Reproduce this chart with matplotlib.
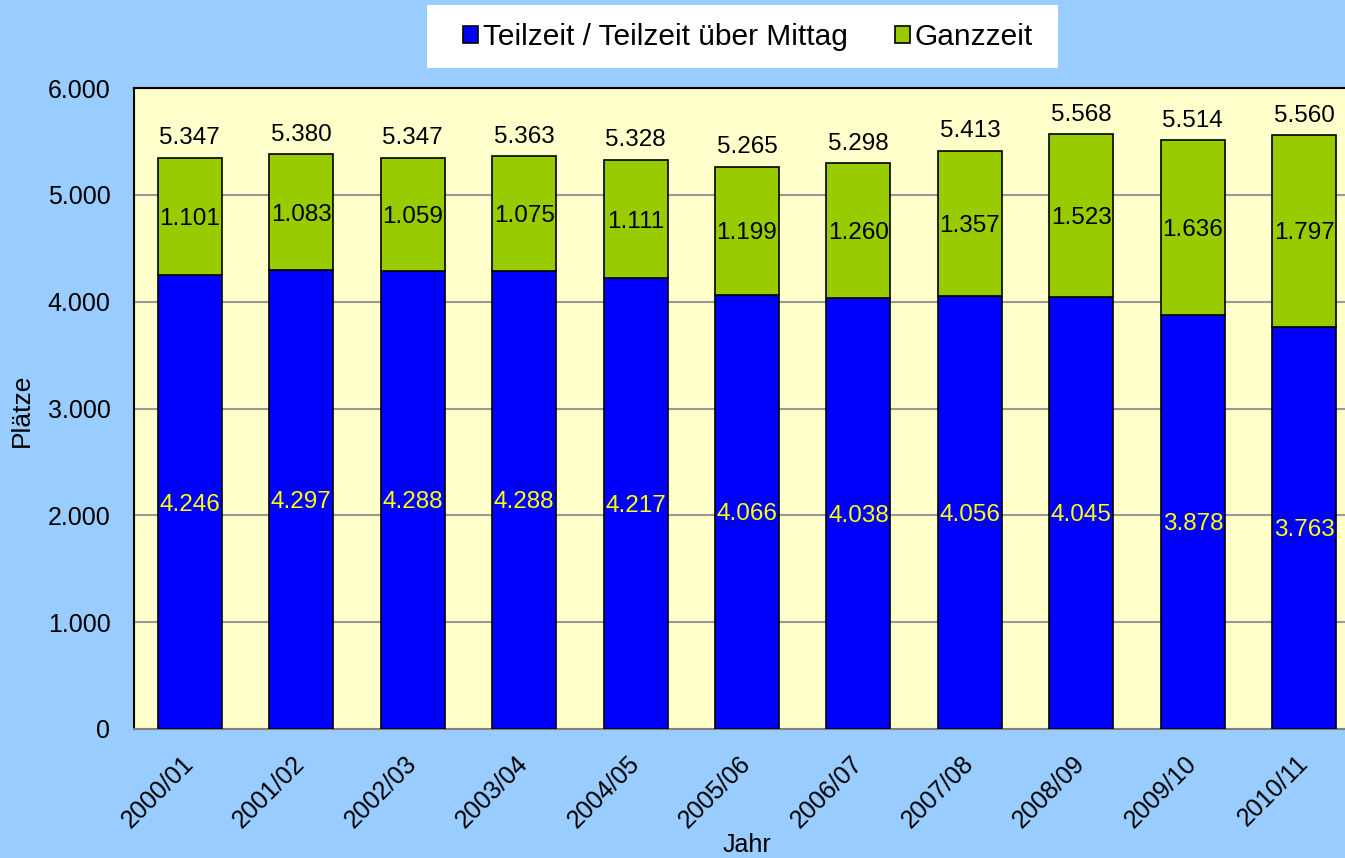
import numpy as np
import matplotlib.pyplot as plt
from matplotlib.patches import Rectangle

plt.rcParams['font.family'] = ['Liberation Sans', 'DejaVu Sans']

jahre = ["2000/01", "2001/02", "2002/03", "2003/04", "2004/05", "2005/06",
         "2006/07", "2007/08", "2008/09", "2009/10", "2010/11"]
teilzeit = [4246, 4297, 4288, 4288, 4217, 4066, 4038, 4056, 4045, 3878, 3763]
ganzzeit = [1101, 1083, 1059, 1075, 1111, 1199, 1260, 1357, 1523, 1636, 1797]


def fmt(v):
    return f"{v:,}".replace(",", ".")


W, H = 1345, 858
fig = plt.figure(figsize=(W / 100, H / 100), dpi=100, facecolor="#99CCFF")
ax = fig.add_axes([134 / W, 1 - 729 / H, (1360 - 134) / W, (729 - 88) / H])
ax.set_facecolor("#FFFFCC")

x = np.arange(len(jahre))
teil = np.array(teilzeit)
ganz = np.array(ganzzeit)
b1 = ax.bar(x, teil, width=0.575, color="#0000FF", edgecolor="black", linewidth=1.2,
            label="Teilzeit / Teilzeit über Mittag", zorder=3)
b2 = ax.bar(x, ganz, bottom=teil, width=0.575, color="#99CC00", edgecolor="black",
            linewidth=1.2, label="Ganzzeit", zorder=3)

for i in range(len(jahre)):
    ax.text(x[i], teil[i] / 2, fmt(teil[i]), ha="center", va="center_baseline",
            color="#FFFF00", fontsize=17.5, zorder=4)
    ax.text(x[i], teil[i] + ganz[i] / 2, fmt(ganz[i]), ha="center", va="center_baseline",
            color="black", fontsize=17.5, zorder=4)
    ax.annotate(fmt(teil[i] + ganz[i]), (x[i], teil[i] + ganz[i]), xytext=(0, 6),
                textcoords="offset points", ha="center", va="bottom",
                fontsize=17.5, zorder=4)

ax.set_xlim(-0.5, len(jahre) - 0.5)
ax.set_ylim(0, 6000)
ax.set_yticks(np.arange(0, 6001, 1000))
ax.set_yticklabels([fmt(v) for v in range(0, 6001, 1000)], fontsize=18)
ax.yaxis.grid(True, color="#999999", linewidth=1.5, zorder=0)
ax.tick_params(axis="y", length=0, pad=17)
ax.set_xticks(x)
ax.set_xticklabels(jahre, rotation=45, ha="right", va="center",
                   rotation_mode="anchor", fontsize=18)
ax.tick_params(axis="x", length=0, pad=22)

for s in ["top", "left"]:
    ax.spines[s].set_color("black")
    ax.spines[s].set_linewidth(1.5)
ax.spines["bottom"].set_color("#808080")
ax.spines["bottom"].set_linewidth(1.5)
ax.spines["right"].set_visible(False)

fig.text(22 / W, 1 - 410 / H, "Plätze", rotation=90, ha="center", va="center",
         fontsize=19)
fig.text(747 / W, 1 - 845 / H, "Jahr", ha="center", va="center", fontsize=18)

# weisser Kasten hinter der Legende
fig.patches.append(Rectangle((427 / W, 1 - 68 / H), (1058 - 427) / W, 63 / H,
                             transform=fig.transFigure, facecolor="white",
                             edgecolor="none", zorder=0))
leg = fig.legend(handles=[b1, b2], loc="center", bbox_to_anchor=(748 / W, 1 - 37 / H),
                 ncol=2, fontsize=21.5, frameon=False, handlelength=0.5,
                 handleheight=0.5, handletextpad=0.15, columnspacing=1.6)

fig.savefig("out.png", dpi=100, facecolor=fig.get_facecolor())
